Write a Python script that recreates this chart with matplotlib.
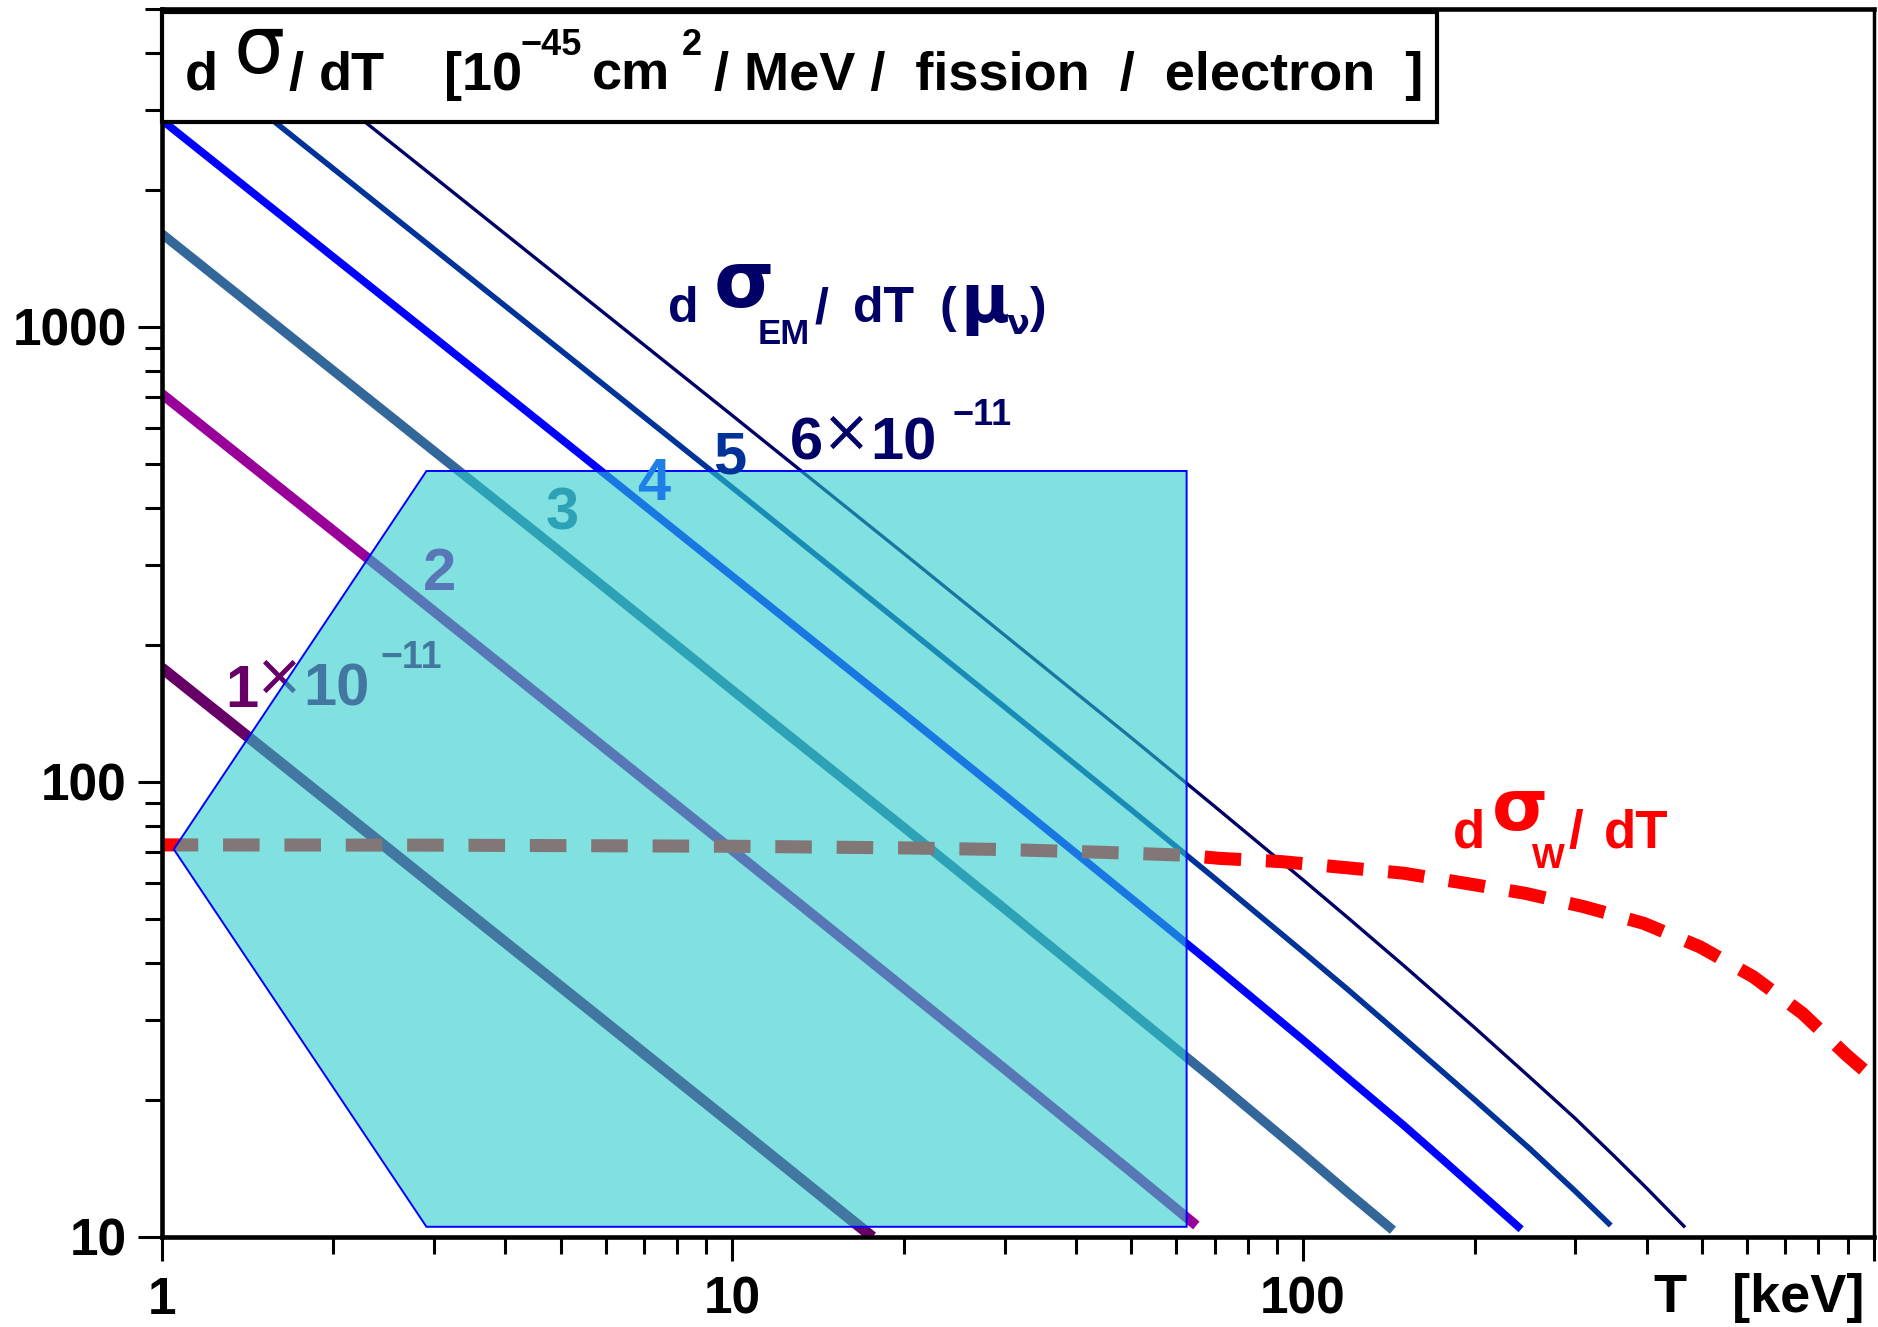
import matplotlib
matplotlib.use('Agg')
import matplotlib.pyplot as plt
from matplotlib.patches import Polygon, Rectangle
from matplotlib.ticker import FixedLocator, FixedFormatter, LogLocator, NullFormatter

plt.rcParams['font.family'] = ['Liberation Sans', 'DejaVu Sans']
plt.rcParams['font.weight'] = 'bold'

# ---------------- data ----------------
# dsigma_EM/dT for mu_nu = 1..6 x 10^-11  (T in keV)
L1_T = [1, 2, 3, 5, 10, 17.6]
L1_v = [178, 88.9, 59.2, 35.5, 17.7, 10.0]
L2_T = [1, 2, 3, 5, 10, 20, 30, 50, 65]
L2_v = [712, 356, 237, 142, 70.8, 35.2, 23.4, 13.9, 10.6]
L3_T = [1, 2, 3, 5, 10, 20, 30, 50, 70, 100, 120, 143.7]
L3_v = [1601, 800, 533, 320, 159, 79.3, 52.6, 31.2, 22.1, 15.2, 12.5, 10.35]
L4_T = [1, 2, 3, 5, 10, 20, 30, 50, 70, 100, 120, 150, 175, 200, 241]
L4_v = [2846, 1422, 948, 568, 283, 141, 93.5, 55.5, 39.3, 27.1, 22.3, 17.6, 14.85, 12.8, 10.4]
L5_T = [1, 2, 3, 5, 10, 20, 30, 50, 70, 100, 120, 150, 200, 250, 300, 346]
L5_v = [4448, 2223, 1481, 888, 443, 220, 146, 86.8, 61.4, 42.3, 34.9, 27.4, 20.0, 15.6, 12.6, 10.6]
L6_T = [1, 2, 3, 5, 10, 20, 30, 50, 70, 100, 120, 150, 200, 250, 300, 350, 400, 467]
L6_v = [6404, 3200, 2133, 1278, 638, 317, 210, 125, 88.3, 60.9, 50.2, 39.5, 28.8, 22.4, 18.2,
        15.1, 12.8, 10.5]

# dsigma_W/dT (weak)
W_T = [1, 3, 10, 20, 30, 45, 62, 71.5, 91.6, 117, 150, 192, 245, 310, 395, 496, 615, 750, 896, 960]
W_v = [72.7, 72.6, 72.2, 71.6, 71.0, 70.0, 69.0, 67.9, 66.8, 64.9, 63.0, 59.9, 56.9, 53.2, 48.9,
       43.4, 37.3, 31.0, 25.1, 23.3]

# shaded sensitivity region
poly_T = [1.05, 2.91, 62.5, 62.5, 2.91]
poly_v = [71.1, 482, 482, 10.53, 10.53]

x_ticks = [1, 10, 100, 1000]
x_ticklabels = ['1', '10', '100', '']
y_ticks = [10, 100, 1000]
y_ticklabels = ['10', '100', '1000']

# ---------------- figure ----------------
W, H, DPI = 1878, 1327, 100
fig = plt.figure(figsize=(W / DPI, H / DPI), dpi=DPI)
ax = fig.add_axes([161.7 / W, (H - 1237) / H, (1873.8 - 161.7) / W, (1237 - 8.6) / H])
ax.set_xscale('log')
ax.set_yscale('log')
ax.set_xlim(1, 1000)
ax.set_ylim(10, 5000)

line_specs = [
    (L1_T, L1_v, '#660066', 8.0),
    (L2_T, L2_v, '#990099', 7.3),
    (L3_T, L3_v, '#336699', 6.8),
    (L4_T, L4_v, '#0000FF', 5.6),
    (L5_T, L5_v, '#003399', 4.0),
    (L6_T, L6_v, '#000066', 2.4),
]
for Ts, vs, c, lw in line_specs:
    ax.plot(Ts, vs, color=c, lw=lw, solid_capstyle='butt', solid_joinstyle='round', zorder=2)

ax.plot(W_T, W_v, color='#FF0000', lw=9.4, dashes=(2.8, 1.9), dash_capstyle='butt', zorder=2.2)

poly = Polygon(list(zip(poly_T, poly_v)), closed=True,
               facecolor=(41 / 255, 203 / 255, 203 / 255, 0.59),
               edgecolor='#0000FF', lw=1.4, zorder=3)
ax.add_patch(poly)

# ticks
ax.xaxis.set_major_locator(FixedLocator(x_ticks))
ax.xaxis.set_major_formatter(FixedFormatter(x_ticklabels))
ax.yaxis.set_major_locator(FixedLocator(y_ticks))
ax.yaxis.set_major_formatter(FixedFormatter(y_ticklabels))
ax.xaxis.set_minor_locator(LogLocator(base=10, subs=range(2, 10)))
ax.yaxis.set_minor_locator(LogLocator(base=10, subs=range(2, 10)))
ax.xaxis.set_minor_formatter(NullFormatter())
ax.yaxis.set_minor_formatter(NullFormatter())
ax.tick_params(which='major', direction='out', length=17, width=2.2, labelsize=37, color='black')
ax.tick_params(which='minor', direction='out', length=12, width=2.2, color='black')
ax.tick_params(axis='x', which='major', pad=11)
ax.tick_params(axis='y', which='major', pad=8)
for s in ['left', 'bottom', 'top']:
    ax.spines[s].set_linewidth(3.3)
ax.spines['right'].set_linewidth(2.5)


def ftext(x, y, s, size, color='black', ha='left', va='baseline', weight='bold',
          family=None, zorder=6, in_ax=False):
    kw = dict(fontsize=size, color=color, ha=ha, va=va, fontweight=weight, zorder=zorder)
    if family is not None:
        kw['family'] = family
    if in_ax:
        return ax.text(x / W, 1 - y / H, s, transform=fig.transFigure, **kw)
    return fig.text(x / W, 1 - y / H, s, **kw)


# title box
box = Rectangle((162 / W, 1 - 122 / H), (1437 - 162) / W, (122 - 12) / H,
                transform=fig.transFigure, facecolor='white', edgecolor='black',
                lw=3.0, zorder=5)
fig.add_artist(box)

SIG = ['DejaVu Sans']
ftext(185, 90, 'd', 39)
ftext(259, 73, 'σ', 58, family=SIG, ha='center', weight='normal')
ftext(288, 90, '/', 39)
ftext(319, 90, 'dT', 39)
ftext(444, 90, '[10', 39)
ftext(521, 55, '−45', 26)
ftext(592, 90, 'cm', 39)
ftext(682, 55, '2', 26)
ftext(714, 90, '/ MeV /  fission  /  electron  ]', 39)

# dsigma_EM / dT (mu_nu) label
NAVY = '#000066'
ftext(668, 322, 'd', 36, color=NAVY)
ftext(744, 307, 'σ', 56, color=NAVY, family=SIG, ha='center')
ftext(758, 344, 'EM', 25, color=NAVY)
ftext(815, 322, '/', 36, color=NAVY)
ftext(853, 322, 'dT', 36, color=NAVY)
ftext(940, 322, '(', 36, color=NAVY)
ftext(960, 322, 'μ', 48, color=NAVY, family=SIG)
ftext(1006, 334, 'ν', 24, color=NAVY, family=SIG)
ftext(1030, 322, ')', 36, color=NAVY)

# dsigma_W / dT label
RED = '#FF0000'
ftext(1453, 848, 'd', 38, color=RED)
ftext(1520, 830, 'σ', 52, color=RED, family=SIG, ha='center')
ftext(1532, 868, 'W', 25, color=RED)
ftext(1568, 848, '/', 38, color=RED)
ftext(1604, 848, 'dT', 38, color=RED)

# axis title
ftext(1864, 1312, 'T   [keV]', 39, ha='right')

# magnetic moment labels (first three sit under the shaded region)
ftext(225, 707, '1', 43, color='#660066', zorder=2.5, in_ax=True)
ftext(279, 678, '×', 42, color='#660066', weight='normal', ha='center', va='center',
      family=SIG, zorder=2.5, in_ax=True)
ftext(303, 706, '10', 43, color='#660066', zorder=2.5, in_ax=True)
ftext(380, 668, '−11', 27, color='#660066', zorder=2.5, in_ax=True)
ftext(423, 590, '2', 43, color='#990099', zorder=2.5, in_ax=True)
ftext(546, 530, '3', 43, color='#336699', zorder=2.5, in_ax=True)
ftext(637, 500, '4', 43, color='#1E80E6', zorder=4, in_ax=True)
ftext(713, 473, '5', 43, color='#003399', zorder=4, in_ax=True)
ftext(790, 460, '6', 43, color=NAVY, zorder=4, in_ax=True)
ftext(846, 434, '×', 42, color=NAVY, weight='normal', ha='center', va='center',
      family=SIG, zorder=4, in_ax=True)
ftext(870, 460, '10', 43, color=NAVY, zorder=4, in_ax=True)
ftext(953, 425, '−11', 26, color=NAVY, zorder=4, in_ax=True)

fig.savefig('out.png', dpi=DPI)
